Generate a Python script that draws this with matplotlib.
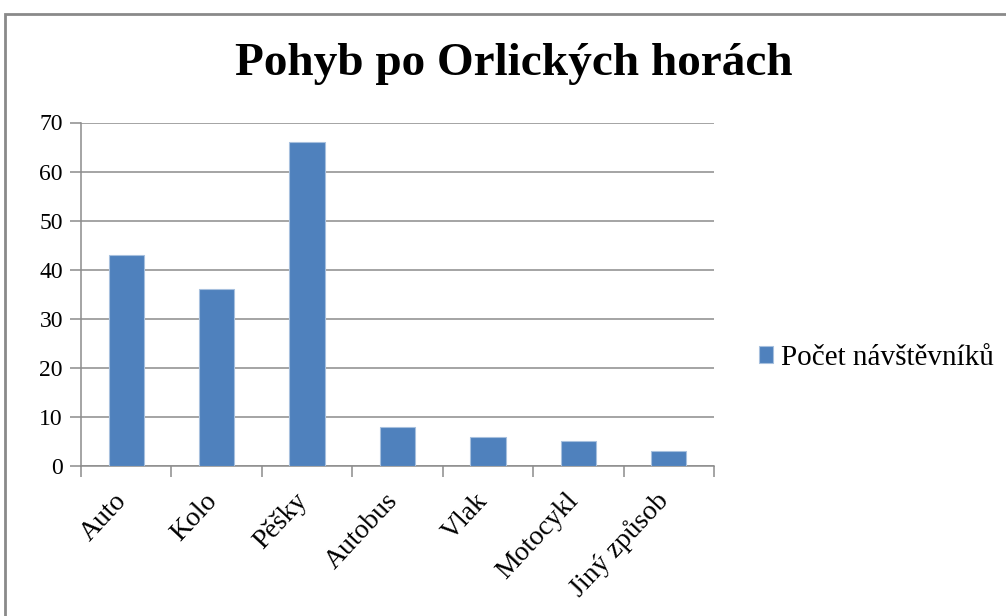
import matplotlib
matplotlib.use("Agg")
import matplotlib.pyplot as plt
from matplotlib.patches import Rectangle
import numpy as np

# ---------- Data ----------
categories = ["Auto", "Kolo", "Pěšky", "Autobus", "Vlak", "Motocykl", "Jiný způsob"]
visitors = [43, 36, 66, 8, 6, 5, 3]
series_name = "Počet návštěvníků"
y_ticks = [0, 10, 20, 30, 40, 50, 60, 70]

# ---------- Styling ----------
BAR_COLOR = "#4F81BD"
GRID_COLOR = "#8C8C8C"
plt.rcParams["font.family"] = ["Liberation Serif", "DejaVu Serif"]

W, H = 1006, 616
fig = plt.figure(figsize=(W / 100, H / 100), dpi=100)
ax = fig.add_axes([81 / W, 1 - 466 / H, (714 - 81) / W, (466 - 122.5) / H])

x = np.arange(len(categories))
ax.bar(x, visitors, width=0.39, color=BAR_COLOR, edgecolor="#A7C0DE",
       linewidth=0.8, label=series_name, zorder=3)

ax.set_xlim(-0.5, len(categories) - 0.5)
ax.set_ylim(0, 70)
ax.set_yticks(y_ticks)
ax.set_yticklabels([str(t) for t in y_ticks], fontsize=17)
ax.yaxis.grid(True, color=GRID_COLOR, linewidth=1.1, zorder=0)
ax.set_axisbelow(True)

# x ticks at category boundaries, labels at centres
ax.set_xticks(np.arange(-0.5, len(categories)), minor=False)
ax.set_xticklabels([])
ax.set_xticks(x + 0.06, minor=True)
ax.set_xticklabels(categories, minor=True, rotation=47, ha="right", va="top",
                   fontsize=20)
ax.tick_params(axis="x", which="major", length=8, color=GRID_COLOR, width=1.1)
ax.tick_params(axis="x", which="minor", length=0, pad=16)
ax.tick_params(axis="y", length=8, color=GRID_COLOR, width=1.1, pad=5)

for side in ("top", "right"):
    ax.spines[side].set_visible(False)
for side in ("left", "bottom"):
    ax.spines[side].set_color(GRID_COLOR)
    ax.spines[side].set_linewidth(1.1)

fig.text(514 / W, 1 - 64 / H, "Pohyb po Orlických horách", ha="center",
         va="center", fontsize=34, fontweight="bold")

ax.legend(loc="center left", bbox_to_anchor=(750 / W, 1 - 358 / H),
          bbox_transform=fig.transFigure, frameon=False, fontsize=21,
          handlelength=0.5, handleheight=0.5, handletextpad=0.25,
          borderaxespad=0, borderpad=0.3)

# chart frame
fig.patches.append(Rectangle((5 / W, -0.1), 1.2, 1 - 14 / H + 0.1,
                             transform=fig.transFigure, fill=False,
                             edgecolor="#8A8A8A", linewidth=2))

fig.savefig("out.png", dpi=100)
